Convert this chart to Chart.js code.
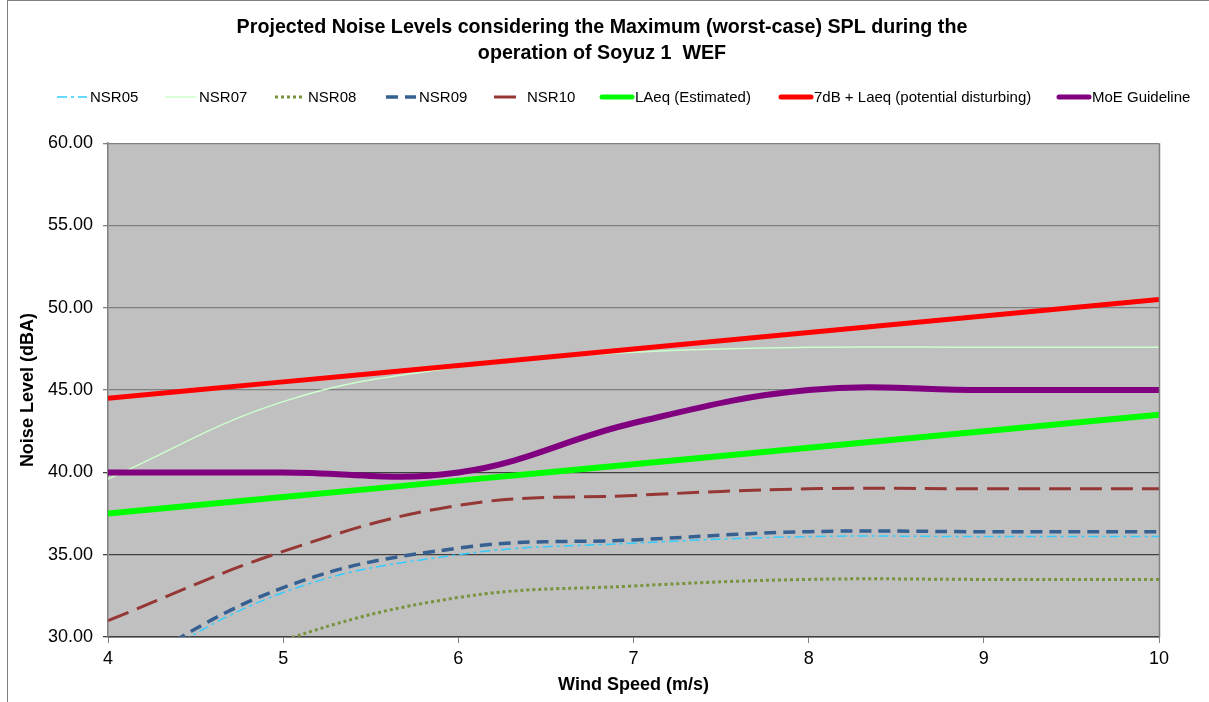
<!DOCTYPE html>
<html>
<head>
<meta charset="utf-8">
<script src="https://cdn.jsdelivr.net/npm/chart.js@4/dist/chart.umd.min.js"></script>
<style>
  html, body { margin: 0; padding: 0; background: #ffffff; }
  #wrap { width: 1209px; height: 702px; }
</style>
</head>
<body>
<div id="wrap"><canvas id="noise-chart"></canvas></div>
<script>
// wind speeds (m/s)
const windSpeed = [4, 5, 6, 7, 8, 9, 10];

// noise levels (dBA)
const nsr05 = [27.2, 32.7, 35.0, 35.7, 36.1, 36.1, 36.1];
const nsr07 = [39.6, 44.3, 46.4, 47.3, 47.6, 47.6, 47.6];
const nsr08 = [25.5, 29.8, 32.4, 33.1, 33.5, 33.5, 33.5];
const nsr09 = [27.5, 33.0, 35.4, 35.9, 36.4, 36.4, 36.4];
const nsr10 = [31.0, 35.2, 38.0, 38.6, 39.0, 39.0, 39.0];
const laeq = [37.5, 38.5, 39.5, 40.5, 41.5, 42.5, 43.5];
const laeqPlus7 = [44.5, 45.5, 46.5, 47.5, 48.5, 49.5, 50.5];
const moeGuideline = [40, 40, 40, 43, 45, 45, 45];

const yTicks = [30, 35, 40, 45, 50, 55, 60];

const FONT = "'Liberation Sans', Arial, sans-serif";

const pts = (arr) => arr.map((v, i) => ({ x: windSpeed[i], y: v }));

const series = [
    { label: 'NSR05', data: nsr05, color: '#33CCFF', width: 1.5, dash: [10, 4, 3, 4] },
    { label: 'NSR07', data: nsr07, color: '#CCFFCC', width: 1.5, dash: [] },
    { label: 'NSR08', data: nsr08, color: '#77933C', width: 3, dash: [3, 3] },
    { label: 'NSR09', data: nsr09, color: '#376092', width: 3.5, dash: [12, 7] },
    { label: 'NSR10', data: nsr10, color: '#953735', width: 3, dash: [22, 9] },
    { label: 'LAeq (Estimated)', data: laeq, color: '#00FF00', width: 6, dash: [] },
    { label: '7dB + Laeq (potential disturbing)', data: laeqPlus7, color: '#FF0000', width: 5, dash: [] },
    { label: 'MoE Guideline', data: moeGuideline, color: '#800080', width: 6, dash: [] }
];

const datasets = series.map((s, i) => ({
    label: s.label,
    data: pts(s.data),
    borderColor: s.color,
    backgroundColor: s.color,
    borderWidth: s.width,
    borderDash: s.dash,
    borderCapStyle: 'butt',
    pointRadius: 0,
    pointHoverRadius: 0,
    tension: 0.4,
    fill: false,
    order: series.length - i // later series on top, like the original
}));

// gray plot background, right border and the outer frame
const plotDecor = {
    id: 'plotDecor',
    afterLayout(chart) {
        // the title is centred on the whole picture, not on the plot
        chart.titleBlock.left = 0;
        chart.titleBlock.right = 1204;
    },
    beforeDraw(chart) {
        const { ctx, chartArea: a } = chart;
        ctx.save();
        ctx.fillStyle = '#C0C0C0';
        ctx.fillRect(a.left, a.top, a.right - a.left, a.bottom - a.top);
        ctx.restore();
    },
    afterDraw(chart) {
        const { ctx, chartArea: a } = chart;
        ctx.save();
        ctx.strokeStyle = '#808080';
        ctx.lineWidth = 1.5;
        ctx.beginPath();
        ctx.moveTo(a.right + 0.5, a.top);
        ctx.lineTo(a.right + 0.5, a.bottom);
        ctx.stroke();
        ctx.lineWidth = 1;
        ctx.strokeRect(7.5, 0.5, 1300, 800);
        ctx.restore();
    }
};

// Excel-style legend: items sit in fixed slots, not evenly packed
const legendSlots = [57, 166, 275, 386, 494, 602, 781, 1059];
const excelLegend = {
    id: 'excelLegend',
    afterDraw(chart) {
        const { ctx } = chart;
        const y = 97;
        ctx.save();
        ctx.font = '15px ' + FONT;
        ctx.textBaseline = 'middle';
        ctx.fillStyle = '#000000';
        chart.data.datasets.forEach((ds, i) => {
            const x0 = legendSlots[i];
            ctx.save();
            ctx.strokeStyle = ds.borderColor;
            ctx.lineWidth = Math.min(ds.borderWidth, 5);
            ctx.setLineDash(ds.borderDash);
            ctx.lineCap = ds.borderDash.length ? 'butt' : 'round';
            ctx.beginPath();
            ctx.moveTo(x0, y);
            ctx.lineTo(x0 + 30, y);
            ctx.stroke();
            ctx.restore();
            ctx.fillText(ds.label, x0 + 33, y + 1);
        });
        ctx.restore();
    }
};

new Chart(document.getElementById('noise-chart'), {
    type: 'line',
    data: { datasets },
    options: {
        responsive: true,
        maintainAspectRatio: false,
        animation: false,
        events: [],
        layout: { padding: { top: 8, right: 50, left: 0, bottom: 0 } },
        elements: { line: { capBezierPoints: false } },
        plugins: {
            title: {
                display: true,
                text: ['Projected Noise Levels considering the Maximum (worst-case) SPL during the',
                       'operation of Soyuz 1  WEF'],
                color: '#000000',
                font: { family: FONT, size: 19.7, weight: 'bold', lineHeight: 1.3 },
                padding: { top: 7, bottom: 77 }
            },
            legend: { display: false },
            tooltip: { enabled: false }
        },
        scales: {
            x: {
                type: 'linear',
                min: 4,
                max: 10,
                ticks: {
                    stepSize: 1,
                    color: '#000000',
                    font: { family: FONT, size: 18 },
                    padding: 5,
                    maxRotation: 0
                },
                grid: {
                    drawOnChartArea: false,
                    drawTicks: true,
                    tickLength: 6,
                    color: '#808080'
                },
                border: { color: '#404040', width: 1.5 },
                title: {
                    display: true,
                    text: 'Wind Speed (m/s)',
                    color: '#000000',
                    font: { family: FONT, size: 18, weight: 'bold' },
                    padding: { top: 0, bottom: 6 }
                },
                afterFit(scale) { scale.height = 65; }
            },
            y: {
                min: 30,
                max: 60,
                afterBuildTicks(scale) { scale.ticks = yTicks.map(v => ({ value: v })); },
                ticks: {
                    color: '#000000',
                    font: { family: FONT, size: 18 },
                    padding: 10,
                    callback: (v) => Number(v).toFixed(2)
                },
                grid: {
                    drawTicks: true,
                    tickLength: 5,
                    lineWidth: 1.3,
                    color: (c) => (c.tick && c.tick.value <= 40 ? '#404040' : '#808080')
                },
                border: { color: '#808080', width: 1.5 },
                title: {
                    display: true,
                    text: 'Noise Level (dBA)',
                    color: '#000000',
                    font: { family: FONT, size: 18, weight: 'bold' },
                    padding: { top: 17, bottom: 0 }
                },
                afterFit(scale) { scale.width = 108; }
            }
        }
    },
    plugins: [plotDecor, excelLegend]
});
</script>
</body>
</html>
